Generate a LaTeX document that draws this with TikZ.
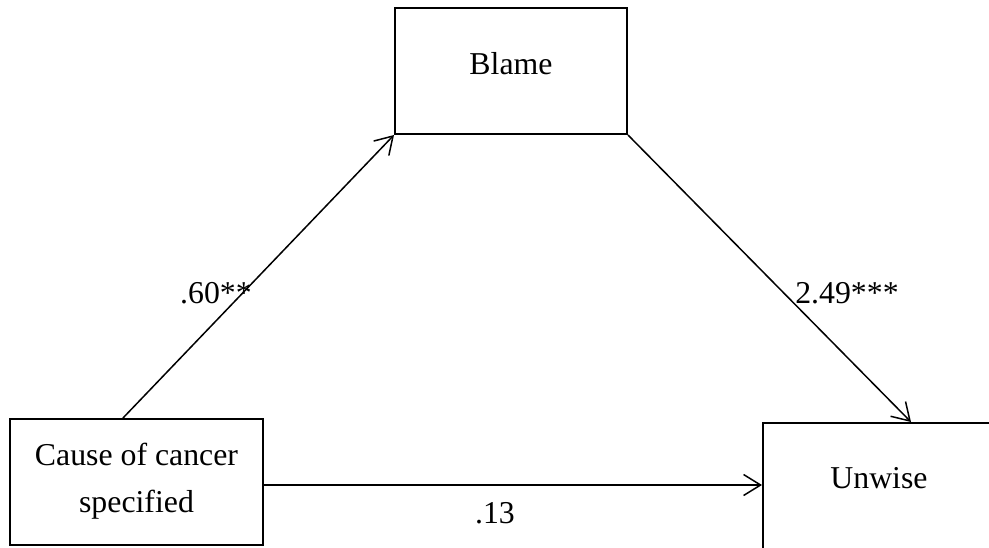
\documentclass[tikz,border=0pt]{standalone}
\usepackage{fontspec}
\setmainfont{Liberation Serif}
\usetikzlibrary{arrows.meta}
\tikzset{
  boxnode/.style={draw, line width=2pt, rectangle, inner sep=0pt},
  txt/.style={inner sep=0pt, font=\fontsize{31.8}{47}\selectfont},
  conn/.style={line width=1.5pt, -{Straight Barb[length=17pt,width=21pt,line width=1.5pt]}},
}
\begin{document}
\begin{tikzpicture}[x=1pt,y=-1pt]
\clip (0,0) rectangle (989,547);
\fill[white] (0,0) rectangle (989,547);
\node[boxnode, minimum width=232pt, minimum height=126pt] (blame) at (511,71) {};
\node[txt, anchor=base] (blameText) at (511,74) {Blame};
\node[boxnode, minimum width=253pt, minimum height=126pt] (cause) at (136.5,482) {};
\node[txt, anchor=base] (causeText1) at (136.5,465) {Cause of cancer};
\node[txt, anchor=base] (causeText2) at (136.5,512) {specified};
\node[boxnode, minimum width=300pt, minimum height=180pt] (unwise) at (913,513) {};
\node[txt, anchor=base] (unwiseText) at (879,488) {Unwise};
\draw[conn] ([xshift=-13.5pt]cause.north) -- (blame.south west);
\draw[conn] (blame.south east) -- ([xshift=149pt]unwise.north west);
\draw[conn] (cause.east |- 0,485) -- (unwise.west |- 0,485);
\node[txt, anchor=base] (l1) at (216,303) {.60**};
\node[txt, anchor=base] (l2) at (847,303) {2.49***};
\node[txt, anchor=base] (l3) at (495,523) {.13};
\end{tikzpicture}
\end{document}
